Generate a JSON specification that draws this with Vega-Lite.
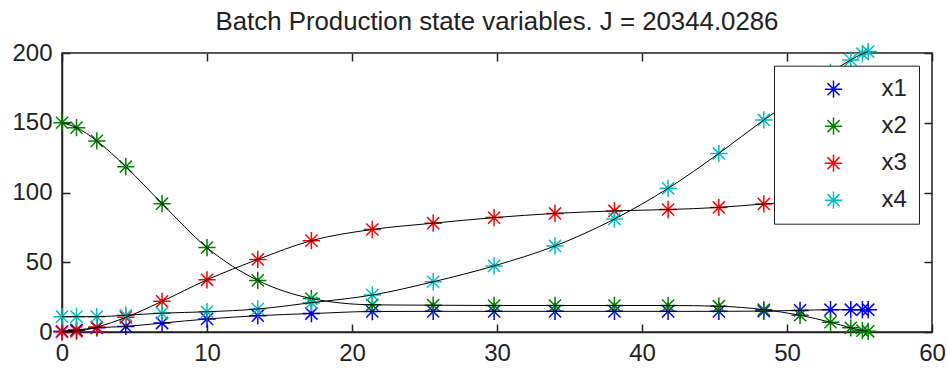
{
  "$schema": "https://vega.github.io/schema/vega-lite/v6.json",
  "width": 870,
  "height": 279,
  "autosize": "none",
  "padding": {"left": 62, "top": 53, "right": 15, "bottom": 41},
  "background": "white",
  "title": {
    "text": "Batch Production state variables. J = 20344.0286",
    "font": "Liberation Sans",
    "fontSize": 25.8,
    "fontWeight": "normal",
    "color": "#222222",
    "anchor": "middle",
    "baseline": "alphabetic",
    "offset": 23,
    "dy": 39
  },
  "config": {
    "view": {"stroke": "#222222", "strokeWidth": 1.5},
    "axis": {
      "grid": false,
      "title": null,
      "zindex": 1,
      "domainColor": "#222222",
      "domainWidth": 1.5,
      "tickColor": "#222222",
      "tickWidth": 1.5,
      "labelFlush": false,
      "labelFont": "Liberation Sans",
      "labelFontSize": 24,
      "labelColor": "#222222"
    }
  },
  "data": {
    "values": [
      {"t": 0, "s": "x1", "v": 0.5}, {"t": 1.0, "s": "x1", "v": 1.5}, {"t": 2.4, "s": "x1", "v": 3}, {"t": 4.4, "s": "x1", "v": 4}, {"t": 6.9, "s": "x1", "v": 6.4}, {"t": 10.0, "s": "x1", "v": 9.3}, {"t": 13.5, "s": "x1", "v": 11.7}, {"t": 17.2, "s": "x1", "v": 13.2}, {"t": 21.4, "s": "x1", "v": 14.7}, {"t": 25.6, "s": "x1", "v": 14.8}, {"t": 29.8, "s": "x1", "v": 14.8}, {"t": 34.0, "s": "x1", "v": 14.8}, {"t": 38.1, "s": "x1", "v": 14.8}, {"t": 41.8, "s": "x1", "v": 14.8}, {"t": 45.3, "s": "x1", "v": 14.8}, {"t": 48.4, "s": "x1", "v": 15}, {"t": 50.9, "s": "x1", "v": 15.5}, {"t": 53.0, "s": "x1", "v": 16}, {"t": 54.4, "s": "x1", "v": 16}, {"t": 55.2, "s": "x1", "v": 16}, {"t": 55.6, "s": "x1", "v": 16},
      {"t": 0, "s": "x2", "v": 150}, {"t": 1.0, "s": "x2", "v": 146.5}, {"t": 2.4, "s": "x2", "v": 137}, {"t": 4.4, "s": "x2", "v": 118.5}, {"t": 6.9, "s": "x2", "v": 92}, {"t": 10.0, "s": "x2", "v": 60.5}, {"t": 13.5, "s": "x2", "v": 37}, {"t": 17.2, "s": "x2", "v": 24}, {"t": 21.4, "s": "x2", "v": 19.5}, {"t": 25.6, "s": "x2", "v": 19.2}, {"t": 29.8, "s": "x2", "v": 19}, {"t": 34.0, "s": "x2", "v": 19}, {"t": 38.1, "s": "x2", "v": 19}, {"t": 41.8, "s": "x2", "v": 19}, {"t": 45.3, "s": "x2", "v": 18.5}, {"t": 48.4, "s": "x2", "v": 16}, {"t": 50.9, "s": "x2", "v": 12}, {"t": 53.0, "s": "x2", "v": 7}, {"t": 54.4, "s": "x2", "v": 3}, {"t": 55.2, "s": "x2", "v": 1}, {"t": 55.6, "s": "x2", "v": 0.5},
      {"t": 0, "s": "x3", "v": 0}, {"t": 1.0, "s": "x3", "v": 0.5}, {"t": 2.4, "s": "x3", "v": 3.5}, {"t": 4.4, "s": "x3", "v": 10.5}, {"t": 6.9, "s": "x3", "v": 22}, {"t": 10.0, "s": "x3", "v": 37.4}, {"t": 13.5, "s": "x3", "v": 52}, {"t": 17.2, "s": "x3", "v": 65.5}, {"t": 21.4, "s": "x3", "v": 73.5}, {"t": 25.6, "s": "x3", "v": 78}, {"t": 29.8, "s": "x3", "v": 82}, {"t": 34.0, "s": "x3", "v": 85}, {"t": 38.1, "s": "x3", "v": 86.8}, {"t": 41.8, "s": "x3", "v": 87.8}, {"t": 45.3, "s": "x3", "v": 89.3}, {"t": 48.4, "s": "x3", "v": 91.8}, {"t": 50.9, "s": "x3", "v": 93.5}, {"t": 53.0, "s": "x3", "v": 94.5}, {"t": 54.4, "s": "x3", "v": 95.2}, {"t": 55.2, "s": "x3", "v": 95.5}, {"t": 55.6, "s": "x3", "v": 95.7},
      {"t": 0, "s": "x4", "v": 11}, {"t": 1.0, "s": "x4", "v": 11}, {"t": 2.4, "s": "x4", "v": 11}, {"t": 4.4, "s": "x4", "v": 12}, {"t": 6.9, "s": "x4", "v": 13.5}, {"t": 10.0, "s": "x4", "v": 14.5}, {"t": 13.5, "s": "x4", "v": 16.5}, {"t": 17.2, "s": "x4", "v": 21}, {"t": 21.4, "s": "x4", "v": 26.5}, {"t": 25.6, "s": "x4", "v": 36}, {"t": 29.8, "s": "x4", "v": 47.4}, {"t": 34.0, "s": "x4", "v": 61.7}, {"t": 38.1, "s": "x4", "v": 81}, {"t": 41.8, "s": "x4", "v": 103}, {"t": 45.3, "s": "x4", "v": 128}, {"t": 48.4, "s": "x4", "v": 152}, {"t": 50.9, "s": "x4", "v": 170}, {"t": 53.0, "s": "x4", "v": 186}, {"t": 54.4, "s": "x4", "v": 195}, {"t": 55.2, "s": "x4", "v": 199.5}, {"t": 55.6, "s": "x4", "v": 201}
    ]
  },
  "resolve": {"axis": {"x": "independent", "y": "independent"}},
  "layer": [
    {
      "mark": {"type": "point", "shape": "M0,-1L0,1M-1,0L1,0M-0.7,-0.7L0.7,0.7M-0.7,0.7L0.7,-0.7", "filled": false, "size": 300, "strokeWidth": 1.5, "opacity": 1},
      "encoding": {
        "x": {"field": "t", "type": "quantitative", "scale": {"domain": [0, 60], "nice": false, "zero": false}, "axis": {"orient": "bottom", "values": [0, 10, 20, 30, 40, 50, 60], "ticks": false, "labelPadding": 9.5}},
        "y": {"field": "v", "type": "quantitative", "scale": {"domain": [0, 200], "nice": false}, "axis": {"orient": "left", "values": [0, 50, 100, 150, 200], "ticks": false, "labelPadding": 10}},
        "color": {
          "field": "s",
          "type": "nominal",
          "scale": {"domain": ["x1", "x2", "x3", "x4"], "range": ["#0000ff", "#008000", "#ff0000", "#00bfbf"]},
          "legend": {
            "orient": "none",
            "legendX": 712,
            "legendY": 12.7,
            "title": null,
            "strokeColor": "#222222",
            "fillColor": "white",
            "padding": 11.5,
            "symbolOffset": 36,
            "labelOffset": 36,
            "rowPadding": 13,
            "symbolType": "M0,-1L0,1M-1,0L1,0M-0.7,-0.7L0.7,0.7M-0.7,0.7L0.7,-0.7",
            "symbolSize": 300,
            "symbolStrokeWidth": 1.5,
            "symbolFillColor": "transparent",
            "labelFont": "Liberation Sans",
            "labelFontSize": 24,
            "labelColor": "#222222",
            "labelLimit": 200
          }
        }
      }
    },
    {
      "mark": {"type": "line", "color": "black", "strokeWidth": 1, "interpolate": "monotone"},
      "encoding": {
        "x": {"field": "t", "type": "quantitative", "axis": {"orient": "bottom", "values": [0, 10, 20, 30, 40, 50, 60], "labels": false, "domain": false, "ticks": true, "tickSize": 8, "offset": -8}},
        "y": {"field": "v", "type": "quantitative", "axis": {"orient": "left", "values": [0, 50, 100, 150, 200], "labels": false, "domain": false, "ticks": true, "tickSize": 8, "offset": -8}},
        "detail": {"field": "s"}
      }
    },
    {
      "mark": {"type": "point", "opacity": 0},
      "encoding": {
        "x": {"field": "t", "type": "quantitative", "axis": {"orient": "top", "values": [0, 10, 20, 30, 40, 50, 60], "labels": false, "domain": false, "ticks": true, "tickSize": -8}},
        "y": {"field": "v", "type": "quantitative", "axis": {"orient": "right", "values": [0, 50, 100, 150, 200], "labels": false, "domain": false, "ticks": true, "tickSize": -8}}
      }
    }
  ]
}
